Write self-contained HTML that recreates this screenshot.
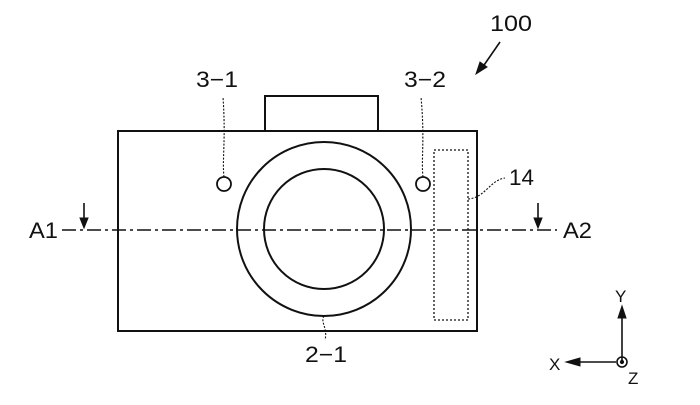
<!DOCTYPE html>
<html><head><meta charset="utf-8"><style>body{margin:0;background:#fff}</style></head><body>
<svg width="700" height="400" viewBox="0 0 700 400" xmlns="http://www.w3.org/2000/svg" font-family="Liberation Sans, sans-serif" fill="none" stroke="#111">
<rect x="265" y="96" width="113" height="35" stroke-width="2"/>
<rect x="118" y="131" width="359" height="200" stroke-width="2" fill="#fff"/>
<circle cx="324" cy="229" r="87" stroke-width="2"/>
<circle cx="324" cy="229" r="60" stroke-width="2"/>
<circle cx="224" cy="184" r="7" stroke-width="1.8"/>
<circle cx="423" cy="184" r="7" stroke-width="1.8"/>
<rect x="434" y="150" width="34" height="170" stroke-width="1.3" stroke-dasharray="2,2"/>
<line x1="62" y1="230" x2="557" y2="230" stroke-width="1.4" stroke-dasharray="14,4,3,4"/>
<line x1="84" y1="203" x2="84" y2="222" stroke-width="1.6"/><path d="M80,218 L84,228 L88,218Z" fill="#111"/>
<line x1="538" y1="203" x2="538" y2="222" stroke-width="1.6"/><path d="M534,218 L538,228 L542,218Z" fill="#111"/>
<path d="M224,177 C222,160 226,140 223,97" stroke-width="1.1" stroke-dasharray="2,1.5"/>
<path d="M423,177 C421,160 425,140 421,97" stroke-width="1.1" stroke-dasharray="2,1.5"/>
<path d="M468,199 C485,198 490,180 505,178" stroke-width="1.1" stroke-dasharray="2,1.5"/>
<path d="M324,316 C320,322 328,328 325,340" stroke-width="1.1" stroke-dasharray="2,1.5"/>
<line x1="500" y1="42" x2="482" y2="68" stroke-width="1.6"/><path d="M476,74 L480,62 L487,67Z" fill="#111"/>
<line x1="622" y1="362" x2="622" y2="315" stroke-width="1.6"/><path d="M618,318 L622,306 L626,318Z" fill="#111"/>
<line x1="616" y1="362" x2="578" y2="362" stroke-width="1.6"/><path d="M580,358 L566,362 L580,366Z" fill="#111"/>
<circle cx="622" cy="362" r="5" stroke-width="1.6"/><circle cx="622" cy="362" r="1.6" fill="#111"/>
<g fill="#111" stroke="none" font-size="22">
<text x="490" y="31" textLength="42" lengthAdjust="spacingAndGlyphs">100</text>
<text x="196" y="87" textLength="42" lengthAdjust="spacingAndGlyphs">3−1</text>
<text x="404" y="87" textLength="42" lengthAdjust="spacingAndGlyphs">3−2</text>
<text x="509" y="185" textLength="25" lengthAdjust="spacingAndGlyphs">14</text>
<text x="29" y="238" textLength="29" lengthAdjust="spacingAndGlyphs">A1</text>
<text x="563" y="238" textLength="29" lengthAdjust="spacingAndGlyphs">A2</text>
<text x="305" y="362" textLength="42" lengthAdjust="spacingAndGlyphs">2−1</text>
<text x="615" y="302" font-size="17">Y</text>
<text x="549" y="370" font-size="17">X</text>
<text x="628" y="384" font-size="17">Z</text>
</g>
</svg>
</body></html>
